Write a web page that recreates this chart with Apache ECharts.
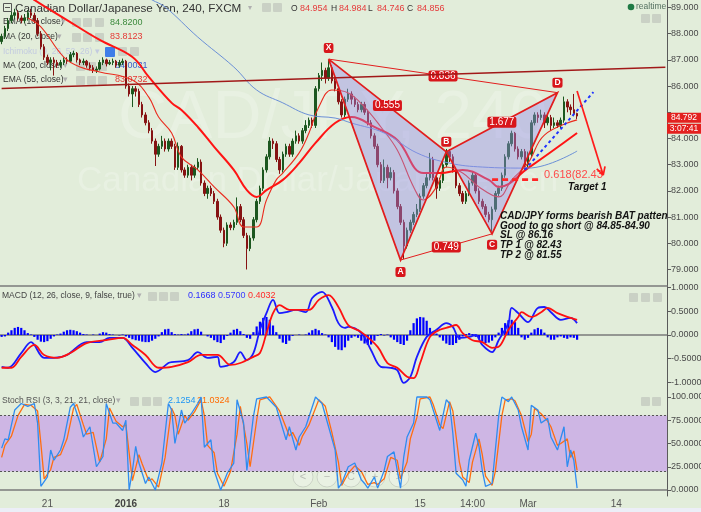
<!DOCTYPE html>
<html><head><meta charset="utf-8">
<script src="https://cdn.jsdelivr.net/npm/echarts@6/dist/echarts.min.js"></script>
<style>html,body{margin:0;padding:0;background:#e2edda}#c{width:701px;height:512px}</style>
</head><body><div id="c"></div>
<script>
// ---------- DATA ----------
const SLOTS = 204;
const xTickSlots = [14, 38, 68, 97, 128, 144, 161, 188];
const xTickLabels = ['21', '2016', '18', 'Feb', '15', '14:00', 'Mar', '14'];
const priceTicks = [79, 80, 81, 82, 83, 84, 85, 86, 87, 88, 89];
const macdTicks = [-1, -0.5, 0, 0.5, 1];
const stochTicks = [0, 25, 50, 75, 100];

// [open, close, low, high]
const candles = [
[87.7,87.9,87.6,88.0],[87.9,88.2,87.8,88.3],[88.2,88.5,88.1,88.6],[88.5,88.7,88.4,88.85],[88.7,88.8,88.6,88.95],
[88.8,88.6,88.5,88.9],[88.6,88.5,88.4,88.7],[88.5,88.6,88.4,88.75],[88.6,88.8,88.5,88.9],[88.8,88.7,88.6,88.95],
[88.7,88.5,88.4,88.8],[88.5,88.0,87.9,88.6],[88.0,87.5,87.4,88.1],[87.5,87.1,87.0,87.6],[87.1,86.9,86.8,87.2],
[86.9,87.0,86.6,87.1],[87.0,86.9,86.4,87.1],[86.9,86.8,86.7,87.0],[86.8,86.9,86.7,87.0],[86.9,87.0,86.8,87.1],
[87.0,86.95,86.85,87.1],[86.95,87.2,86.9,87.3],[87.2,87.25,87.1,87.35],[87.25,87.0,86.9,87.3],[87.0,86.9,86.8,87.05],
[86.9,86.95,86.8,87.05],[86.95,86.8,86.7,87.0],[86.8,86.7,86.6,86.9],[86.7,86.6,86.5,86.8],[86.6,86.65,86.5,86.75],
[86.65,86.9,86.6,87.0],[86.9,87.0,86.8,87.1],[87.0,86.85,86.75,87.05],[86.85,86.9,86.8,87.0],[86.9,86.95,86.8,87.05],
[86.95,86.8,86.7,87.0],[86.8,86.9,86.7,87.0],[86.9,86.95,86.8,87.05],[86.95,86.0,85.9,87.0],[86.0,85.7,85.6,86.1],
[85.7,85.9,85.2,86.0],[85.9,85.8,85.6,86.0],[85.8,85.3,85.2,85.9],[85.3,84.9,84.8,85.4],[84.9,84.6,84.5,85.0],
[84.6,84.3,84.2,84.7],[84.3,83.9,83.8,84.4],[83.9,83.4,82.95,84.0],[83.4,83.7,83.3,83.8],[83.7,83.9,83.6,84.1],
[83.9,83.6,83.5,84.0],[83.6,83.9,83.5,84.0],[83.9,83.7,83.6,84.0],[83.7,82.9,82.8,83.8],[82.9,83.7,82.8,83.85],
[83.7,82.8,82.7,83.75],[82.8,82.6,82.5,82.9],[82.6,82.9,82.5,83.0],[82.9,82.6,82.4,83.0],[82.6,82.9,82.5,83.0],
[82.9,83.1,82.8,83.25],[83.1,82.3,82.2,83.2],[82.3,81.9,81.8,82.4],[81.9,82.1,81.7,82.2],[82.1,81.9,81.8,82.2],
[81.9,81.6,81.5,82.0],[81.6,81.0,80.9,81.7],[81.0,80.5,80.4,81.1],[80.5,80.0,79.85,80.6],[80.0,80.7,79.9,80.8],
[80.7,80.6,80.5,80.8],[80.6,80.8,80.5,80.9],[80.8,81.4,80.7,81.75],[81.4,80.9,80.8,81.5],[80.9,80.3,80.2,81.0],
[80.3,79.8,79.0,80.4],[79.8,80.2,79.7,80.3],[80.2,80.9,80.1,81.0],[80.9,81.6,80.8,81.7],[81.6,82.1,81.5,82.2],
[82.1,82.8,82.0,82.9],[82.8,83.3,82.7,83.4],[83.3,83.9,83.2,84.05],[83.9,83.8,83.6,84.0],[83.8,83.2,83.1,83.9],
[83.2,82.8,82.65,83.3],[82.8,83.4,82.7,83.5],[83.4,83.7,83.3,83.8],[83.7,83.4,83.3,83.8],[83.4,83.9,83.3,84.0],
[83.9,84.1,83.8,84.3],[84.1,83.9,83.8,84.2],[83.9,84.3,83.8,84.4],[84.3,84.5,84.2,84.7],[84.5,84.7,84.4,84.8],
[84.7,84.5,84.4,84.8],[84.5,85.9,84.4,86.0],[85.9,86.4,85.8,86.5],[86.4,86.6,86.2,86.9],[86.6,86.3,86.1,86.7],
[86.3,86.7,86.2,87.0],[86.7,86.2,86.1,86.8],[86.2,85.9,85.8,86.3],[85.9,85.4,85.3,86.0],[85.4,84.9,84.8,85.5],
[84.9,85.5,84.8,85.6],[85.5,85.7,85.4,85.9],[85.7,85.5,85.3,85.8],[85.5,85.3,85.2,85.6],[85.3,85.1,85.0,85.4],
[85.1,85.3,85.0,85.4],[85.3,85.0,84.9,85.4],[85.0,84.6,84.5,85.1],[84.6,84.1,84.0,84.7],[84.1,83.7,83.6,84.2],
[83.7,83.0,82.9,83.8],[83.0,82.4,82.3,83.1],[82.4,82.9,82.3,83.2],[82.9,82.5,82.1,83.0],[82.5,82.7,82.4,82.9],
[82.7,82.0,81.9,82.8],[82.0,81.4,81.3,82.1],[81.4,80.8,80.7,81.5],[80.8,79.9,79.4,80.9],[79.9,80.5,79.8,80.6],
[80.5,80.8,80.4,80.9],[80.8,81.1,80.7,81.2],[81.1,81.3,81.0,81.5],[81.3,81.8,81.2,81.9],[81.8,82.2,81.7,82.3],
[82.2,82.5,82.1,82.7],[82.5,83.2,82.4,83.45],[83.2,82.5,82.4,83.3],[82.5,82.1,81.7,82.6],[82.1,82.4,82.0,82.5],
[82.4,83.0,82.3,83.1],[83.0,83.5,82.9,83.6],[83.5,83.3,83.1,83.6],[83.3,82.8,82.7,83.4],[82.8,82.2,82.1,82.9],
[82.2,81.9,81.8,82.3],[81.9,81.6,81.5,82.0],[81.6,81.9,81.5,82.0],[81.9,82.3,81.8,82.4],[82.3,82.6,82.2,82.75],
[82.6,82.0,81.9,82.7],[82.0,81.6,81.5,82.1],[81.6,81.4,81.3,81.7],[81.4,81.1,81.0,81.5],[81.1,80.9,80.8,81.2],
[80.9,81.3,80.45,81.4],[81.3,81.9,81.2,82.0],[81.9,82.1,81.8,82.2],[82.1,82.6,82.0,82.7],[82.6,83.3,82.5,83.4],
[83.3,83.8,83.2,83.9],[83.8,84.2,83.7,84.3],[84.2,83.6,83.5,84.25],[83.6,83.3,83.2,83.7],[83.3,83.5,83.2,83.6],
[83.5,83.0,82.8,83.6],[83.0,83.4,82.9,83.5],[83.4,84.6,83.3,84.7],[84.6,84.9,84.5,85.0],[84.9,84.8,84.6,85.0],
[84.8,84.9,84.7,85.1],[84.9,84.6,84.4,85.0],[84.6,84.8,84.5,84.9],[84.8,84.5,84.3,84.9],[84.5,84.6,84.4,84.8],
[84.6,84.5,84.4,84.7],[84.5,84.7,84.4,84.8],[84.7,85.4,84.6,85.6],[85.4,85.2,85.0,85.5],[85.2,85.1,84.9,85.3],
[85.1,84.95,84.85,85.7],[84.954,84.856,84.746,84.984]
];

// moving averages: [bar slot, price]
const fastMA = [[8,88.6],[12,88.26],[19,87.11],[24,86.73],[30,86.54],[40,86.23],[45,85.58],[48,84.82],[52,84.21],[55,83.29],[60,82.80],[65,82.15],[71,81.39],[74,80.62],[78,80.62],[81,81.65],[84,82.42],[86,82.68],[91,83.45],[94,84.21],[97,85.20],[101,85.85],[106,85.74],[111,85.20],[116,84.44],[121,83.56],[126,82.15],[129,81.65],[133,82.15],[136,82.91],[141,82.68],[146,82.15],[152,81.77],[156,82.42],[161,83.06],[166,84.13],[176,84.71]];
const slowMA = [[8,89.5],[10,89.29],[20,88.52],[30,87.76],[40,87.11],[45,86.35],[52,85.36],[55,85.09],[60,84.44],[65,83.68],[71,82.80],[75,82.03],[78,81.77],[81,82.03],[86,82.42],[91,83.06],[96,83.83],[102,84.59],[107,84.82],[114,84.44],[121,83.94],[129,82.68],[134,82.68],[141,82.80],[149,82.42],[152,82.15],[161,82.87],[176,84.21]];
const ma200 = [[42,89.6],[46,89.29],[50,89.02],[60,87.87],[71,86.73],[78,85.85],[86,85.36],[94,84.90],[102,84.78],[107,84.59],[117,84.21],[127,83.45],[137,83.06],[147,82.91],[161,82.87],[176,83.52]];

// harmonic BAT pattern
const patternNames = ['X', 'A', 'B', 'C', 'D'];
const patternSlots = [100, 122, 136, 150, 170];
const patternPrices = [87.03, 79.36, 83.49, 80.36, 85.75];
const ratioPairs = [[0, 2], [2, 4], [0, 4], [1, 3]];
const ratioLabels = ['0.555', '1.677', '0.836', '0.749'];

// drawings
const trendSlots = [0, 203], trendPrices = [85.91, 86.72];
const targetSlots = [150, 165], targetPrice = 82.43, targetLabel = '0.618(82.43';
const channelSlots = [160, 181], channelPrices = [82.8, 85.77];
const arrowSlots = [176, 184], arrowPrices = [85.81, 82.6];
const lastPrice = 84.792, countdown = '3:07:41';
const noteLines = ['CAD/JPY forms bearish BAT patten', 'Good to go short @ 84.85-84.90', 'SL @ 86.16', 'TP 1 @ 82.43', 'TP 2 @ 81.55'];

// MACD
const macdHist = [-0.04,-0.03, 0.05,0.1,0.15,0.17,0.15,0.1,0.04, 0.01, -0.04,-0.1,-0.14,-0.15,-0.13,-0.08,-0.03, 0.01,
 0.03,0.07,0.1,0.11,0.1,0.08,0.05,0.02, 0.01,0,0.01,0, 0.03,0.06,0.05,0.02, 0.01,0,-0.01,0.01,
 -0.03,-0.06,-0.09,-0.11,-0.12,-0.14,-0.15,-0.15,-0.12,-0.08,-0.03, 0.06,0.12,0.13,0.06, 0.02,0.01,0.02,0.01,
 0.03,0.08,0.12,0.13,0.07, 0,-0.03, -0.06,-0.11,-0.15,-0.17,-0.1, -0.02, 0.05,0.11,0.13,0.08,0.02, -0.06,-0.08,
 0.06,0.18,0.28,0.36,0.38,0.32,0.2,0.06, -0.08,-0.16,-0.19,-0.12, -0.02,0,0.01,0,0.01, 0.05,0.1,0.13,0.1,0.04, 0.01,
 -0.05,-0.15,-0.25,-0.31,-0.32,-0.26,-0.12, -0.06, -0.03,-0.06,-0.12,-0.18,-0.21,-0.2,-0.12, -0.02,0.02,-0.01,0.01,
 -0.05,-0.1,-0.15,-0.19,-0.21,-0.12, 0.1,0.25,0.35,0.38,0.37,0.3,0.15, 0.04,0.03,
 -0.05,-0.12,-0.18,-0.21,-0.21,-0.17,-0.1,-0.03, 0.02,0.04,0.02, -0.04,-0.09,-0.14,-0.17,-0.16,-0.12,-0.05,
 0.05,0.15,0.25,0.31,0.32,0.27,0.15, -0.05,-0.1,-0.06, 0.05,0.12,0.15,0.12,0.05, -0.05,-0.1,-0.1,-0.05,
 -0.03,-0.06,-0.08,-0.05,-0.06,-0.1];
const macdLine = [[0,-0.67],[2,-0.69],[6,-0.38],[9,-0.15],[13,-0.48],[16,-0.48],[20,-0.42],[26,-0.15],[30,-0.15],[33,-0.06],[37,-0.06],[40,-0.27],[44,-0.59],[47,-0.78],[51,-0.59],[52,-0.57],[57,-0.53],[60,-0.36],[63,-0.48],[66,-0.46],[67,-0.67],[71,-0.57],[73,-0.36],[75,-0.53],[77,-0.38],[79,0.11],[81,0.46],[83,0.74],[85,0.46],[87,0.48],[90,0.53],[93,0.48],[95,0.78],[98,0.91],[101,0.59],[103,0.25],[105,0.15],[106,0.17],[110,0.04],[113,-0.32],[116,-0.67],[119,-0.69],[121,-0.74],[123,-1.01],[125,-0.88],[127,-0.46],[130,-0.04],[133,0.11],[136,0.25],[138,0.17],[140,-0.06],[143,-0.04],[145,0],[147,-0.21],[150,-0.36],[152,-0.11],[155,0.25],[156,0.57],[158,0.46],[161,0.27],[164,0.57],[166,0.59],[168,0.48],[171,0.32],[174,0.36],[176,0.25]];
const signalLine = [[0,-0.69],[3,-0.69],[6,-0.46],[10,-0.21],[13,-0.42],[17,-0.48],[21,-0.38],[26,-0.17],[32,-0.11],[37,-0.06],[40,-0.21],[44,-0.42],[48,-0.69],[52,-0.67],[57,-0.57],[61,-0.42],[66,-0.42],[70,-0.63],[73,-0.59],[77,-0.46],[79,-0.38],[81,0.04],[83,0.46],[85,0.63],[88,0.53],[94,0.53],[97,0.74],[100,0.84],[103,0.59],[106,0.21],[110,0.06],[115,-0.25],[118,-0.59],[121,-0.69],[124,-0.88],[126,-0.91],[128,-0.59],[131,-0.04],[134,0.11],[137,0.17],[139,0.21],[141,0.04],[144,-0.11],[147,-0.15],[150,-0.27],[152,-0.25],[155,0.11],[158,0.38],[159,0.48],[162,0.38],[165,0.48],[167,0.57],[170,0.46],[173,0.38],[176,0.32]];

// Stoch RSI
const stochK = [[0,45],[1,55],[2,54],[3,70],[4,86],[6,93],[8,90],[10,93],[11,72],[12,4],[14,14],[15,43],[16,32],[18,43],[19,54],[21,89],[22,93],[24,72],[25,57],[27,68],[29,25],[31,36],[32,93],[34,72],[35,72],[37,64],[38,75],[39,0],[40,21],[41,47],[42,29],[44,7],[45,14],[47,0],[49,29],[51,93],[52,86],[53,50],[55,86],[56,72],[58,82],[60,93],[61,100],[62,46],[64,54],[65,21],[67,0],[69,18],[71,29],[72,97],[74,72],[75,21],[77,79],[78,98],[81,100],[84,89],[87,54],[88,68],[90,43],[91,57],[93,68],[96,100],[98,93],[100,68],[102,43],[103,2],[104,7],[106,25],[108,29],[110,11],[111,7],[112,2],[114,14],[115,2],[117,21],[118,36],[120,41],[121,21],[122,2],[123,36],[124,57],[126,72],[127,100],[130,100],[131,97],[133,75],[134,64],[136,97],[137,93],[138,61],[139,18],[141,11],[142,4],[143,32],[145,61],[146,47],[147,21],[148,4],[150,7],[152,79],[153,100],[155,95],[156,100],[158,86],[159,68],[161,43],[162,91],[164,86],[165,72],[167,77],[168,57],[170,43],[172,68],[173,25],[174,43],[175,32],[176,2]];
const stochD = [[0,35],[1,48],[3,58],[5,80],[7,92],[9,91],[11,85],[12,50],[13,12],[15,22],[16,35],[18,38],[20,55],[22,88],[23,92],[25,70],[26,60],[28,62],[30,30],[32,55],[33,88],[35,74],[37,68],[38,70],[39,40],[40,10],[42,38],[43,28],[45,10],[46,12],[48,3],[50,35],[52,88],[53,80],[54,60],[56,80],[57,75],[59,84],[61,97],[62,80],[63,48],[65,40],[66,18],[68,4],[70,20],[72,60],[73,90],[75,50],[76,25],[78,75],[79,97],[82,100],[85,85],[88,58],[89,62],[91,48],[92,58],[94,70],[97,97],[99,90],[101,62],[103,30],[104,5],[106,18],[108,26],[110,20],[112,6],[114,8],[115,6],[117,12],[119,35],[121,32],[122,12],[124,30],[125,55],[127,78],[128,98],[131,100],[132,92],[134,70],[135,66],[137,95],[138,85],[140,30],[141,14],[143,8],[144,30],[146,55],[147,38],[148,15],[150,5],[151,20],[153,80],[154,97],[156,98],[157,96],[159,80],[161,52],[162,60],[163,88],[165,82],[167,74],[168,68],[170,48],[171,50],[173,55],[174,35],[175,42],[176,21]];

// ---------- CHART ----------
const FONT = "Arial, 'Liberation Sans', sans-serif";
const cats = Array.from({length: SLOTS}, (_, i) => String(i));
const chart = echarts.init(document.getElementById('c'), null, {renderer: 'canvas', width: 701, height: 512});

const sepLine = {show: true, lineStyle: {color: '#7b7b7b', width: 1.5}};
function xAx(g) {
  return {
    type: 'category', gridIndex: g, data: cats, boundaryGap: true,
    axisLine: sepLine, axisTick: {show: false}, splitLine: {show: false},
    axisLabel: g === 2 ? {
      show: true, interval: (i) => xTickSlots.includes(i), margin: 3, fontSize: 10, color: '#555', fontFamily: FONT,
      formatter: (v, i) => { const k = xTickSlots.indexOf(i); if (k < 0) return ''; return xTickLabels[k] === '2016' ? '{b|2016}' : xTickLabels[k]; },
      rich: {b: {fontWeight: 'bold', fontSize: 10, color: '#444', fontFamily: FONT}}
    } : {show: false}
  };
}
function yAx(g, min, max, ticks, labelTicks, dec) {
  return {
    type: 'value', gridIndex: g, position: 'right', min, max, scale: true,
    axisLine: {show: true, lineStyle: {color: '#5a5a5a', width: 1}},
    axisTick: {show: true, length: 4, customValues: ticks, lineStyle: {color: '#5a5a5a'}},
    axisLabel: {customValues: labelTicks, formatter: v => v.toFixed(dec), fontSize: 9, color: '#4a4a4a', margin: 4, fontFamily: FONT},
    splitLine: {show: false}
  };
}

function renderPattern(params, api) {
  const P = patternSlots.map((s, i) => api.coord([s, patternPrices[i]]));
  const red = '#e21d1d', fill = 'rgba(150,140,236,0.42)';
  const ch = [];
  ch.push({type: 'polygon', shape: {points: [P[0], P[1], P[2]]}, style: {fill}});
  ch.push({type: 'polygon', shape: {points: [P[2], P[3], P[4]]}, style: {fill}});
  ch.push({type: 'line', shape: {x1: P[0][0], y1: P[0][1], x2: P[4][0], y2: P[4][1]}, style: {stroke: red, lineWidth: 1}});
  ch.push({type: 'line', shape: {x1: P[1][0], y1: P[1][1], x2: P[3][0], y2: P[3][1]}, style: {stroke: red, lineWidth: 1}});
  ch.push({type: 'polyline', shape: {points: [P[0], P[1], P[2], P[0]]}, style: {stroke: red, lineWidth: 1.7, fill: null}});
  ch.push({type: 'polyline', shape: {points: [P[2], P[3], P[4], P[2]]}, style: {stroke: red, lineWidth: 1.7, fill: null}});
  ratioPairs.forEach((pr, k) => {
    const a = P[pr[0]], b = P[pr[1]];
    ch.push({type: 'text', x: (a[0] + b[0]) / 2, y: (a[1] + b[1]) / 2, z2: 10,
      style: {text: ratioLabels[k], fill: '#fff', font: '10px ' + FONT, align: 'center', verticalAlign: 'middle',
        backgroundColor: '#d8161b', padding: [1, 2, 0, 2], borderRadius: 2}});
  });
  const off = [-11, 12, -10, 11, -10];
  patternNames.forEach((n, i) => {
    ch.push({type: 'text', x: P[i][0], y: P[i][1] + off[i], z2: 10,
      style: {text: n, fill: '#fff', font: 'bold 8.5px ' + FONT, align: 'center', verticalAlign: 'middle',
        backgroundColor: '#d8161b', padding: [1, 2, 0, 2], borderRadius: 2}});
  });
  return {type: 'group', children: ch};
}

function renderDrawings(params, api) {
  const c = (s, p) => api.coord([s, p]);
  const ch = [];
  const t0 = c(trendSlots[0], trendPrices[0]), t1 = c(trendSlots[1], trendPrices[1]);
  ch.push({type: 'line', shape: {x1: t0[0], y1: t0[1], x2: t1[0], y2: t1[1]}, style: {stroke: '#a11818', lineWidth: 1.6}});
  const g0 = c(targetSlots[0], targetPrice), g1 = c(targetSlots[1], targetPrice);
  ch.push({type: 'line', shape: {x1: g0[0], y1: g0[1], x2: g1[0], y2: g1[1]}, style: {stroke: '#ff2626', lineWidth: 2.6, lineDash: [6, 4]}});
  ch.push({type: 'text', x: g1[0] + 3, y: g1[1] - 5, style: {text: targetLabel, fill: '#ff4a4a', font: '11px ' + FONT, align: 'left', verticalAlign: 'middle'}});
  const b0 = c(channelSlots[0], channelPrices[0]), b1 = c(channelSlots[1], channelPrices[1]);
  ch.push({type: 'line', shape: {x1: b0[0], y1: b0[1], x2: b1[0], y2: b1[1]}, style: {stroke: '#1f33ff', lineWidth: 2, lineDash: [3, 3]}});
  const a0 = c(arrowSlots[0], arrowPrices[0]), a1 = c(arrowSlots[1], arrowPrices[1]);
  ch.push({type: 'line', shape: {x1: a0[0], y1: a0[1], x2: a1[0], y2: a1[1]}, style: {stroke: '#ff1c1c', lineWidth: 1.7}});
  const ang = Math.atan2(a1[1] - a0[1], a1[0] - a0[0]);
  [0.5, -0.5].forEach(d => {
    const aa = ang + Math.PI + d;
    ch.push({type: 'line', shape: {x1: a1[0], y1: a1[1], x2: a1[0] + 9 * Math.cos(aa), y2: a1[1] + 9 * Math.sin(aa)}, style: {stroke: '#ff1c1c', lineWidth: 1.7}});
  });
  return {type: 'group', children: ch};
}

function renderTags(params, api) {
  const cs = params.coordSys;
  const y = api.coord([0, lastPrice])[1];
  const x = cs.x + cs.width;
  return {type: 'group', children: [
    {type: 'rect', shape: {x: x, y: y - 5, width: 34, height: 10}, style: {fill: '#e3211f'}},
    {type: 'text', x: x + 17, y: y, style: {text: lastPrice.toFixed(3), fill: '#fff', font: '8.5px ' + FONT, align: 'center', verticalAlign: 'middle'}},
    {type: 'rect', shape: {x: x, y: y + 6, width: 34, height: 10}, style: {fill: '#e3211f'}},
    {type: 'text', x: x + 17, y: y + 11, style: {text: countdown, fill: '#fff', font: '8.5px ' + FONT, align: 'center', verticalAlign: 'middle'}}
  ]};
}

// ---------- static texts / chrome ----------
const G = [];
function T(x, y, text, fill, font, align) {
  G.push({type: 'text', x, y, z: 0, silent: true,
    style: {text, fill: fill || '#333', font: font || ('8.5px ' + FONT), align: align || 'left', verticalAlign: 'middle'}});
}
function ICON(x, y, fill) { G.push({type: 'rect', z: 0, silent: true, shape: {x, y, width: 9, height: 9, r: 1}, style: {fill: fill || 'rgba(200,208,196,0.95)'}}); }

// watermark
T(118, 119, 'CAD/JPY, 240', 'rgba(255,255,255,0.22)', '68px ' + FONT);
T(77, 181, 'Canadian Dollar/Japanese Yen', 'rgba(255,255,255,0.22)', '35px ' + FONT);
// header
G.push({type: 'rect', z: 0, shape: {x: 3.5, y: 3.5, width: 8, height: 8}, style: {fill: 'none', stroke: '#555', lineWidth: 1}});
G.push({type: 'line', z: 0, shape: {x1: 5, y1: 7.5, x2: 10, y2: 7.5}, style: {stroke: '#555', lineWidth: 1}});
T(15, 8.5, 'Canadian Dollar/Japanese Yen, 240, FXCM', '#333', '11.7px ' + FONT);
T(248, 8, '▾', '#b0b0b0', '8px ' + FONT);
ICON(262, 3); ICON(273, 3);
T(291, 8.5, 'O', '#333', '8.5px ' + FONT); T(300, 8.5, '84.954', '#e53b3b', '9px ' + FONT);
T(331, 8.5, 'H', '#333', '8.5px ' + FONT); T(339, 8.5, '84.984', '#e53b3b', '9px ' + FONT);
T(368, 8.5, 'L', '#333', '8.5px ' + FONT); T(377, 8.5, '84.746', '#e53b3b', '9px ' + FONT);
T(407, 8.5, 'C', '#333', '8.5px ' + FONT); T(417, 8.5, '84.856', '#e53b3b', '9px ' + FONT);
// legends main
T(3, 22, 'EMA (10, close)'); T(61, 22, '▾', '#b0b0b0'); ICON(72, 18); ICON(83, 18); ICON(95, 18); T(110, 23, '84.8200', '#3d8a3d', '9px ' + FONT);
T(3, 37, 'MA (20, close)'); T(57, 37, '▾', '#b0b0b0'); ICON(72, 33); ICON(83, 33); ICON(95, 33); T(110, 37, '83.8123', '#e53935', '9px ' + FONT);
T(3, 52, 'Ichimoku (9, 26, 52, 26)', '#c3cbe0'); T(95, 52, '▾', '#c3cbe0');
G.push({type: 'rect', z: 0, shape: {x: 105, y: 47, width: 10, height: 10, r: 1}, style: {fill: '#3f7ee8'}});
ICON(118, 47); ICON(130, 47);
T(3, 66, 'MA (200, close)'); T(63, 66, '▾', '#b0b0b0'); ICON(76, 62); ICON(87, 62); ICON(98, 62); T(115, 66, '84.0031', '#3a5cc9', '9px ' + FONT);
T(3, 80, 'EMA (55, close)'); T(63, 80, '▾', '#b0b0b0'); ICON(76, 76); ICON(87, 76); ICON(98, 76); T(115, 80, '83.0732', '#e53935', '9px ' + FONT);
// realtime
G.push({type: 'circle', z: 0, shape: {cx: 631, cy: 7, r: 3.3}, style: {fill: '#1f7a44'}});
T(636, 7, 'realtime', '#557060', '8.5px ' + FONT);
ICON(641, 14); ICON(652, 14);
// MACD legend
T(2, 296, 'MACD (12, 26, close, 9, false, true)', '#444');
T(137, 296, '▾', '#b0b0b0'); ICON(148, 292); ICON(159, 292); ICON(170, 292);
T(188, 296, '0.1668', '#2b2bff', '9px ' + FONT); T(218, 296, '0.5700', '#3a3aff', '9px ' + FONT); T(248, 296, '0.4032', '#ff2a2a', '9px ' + FONT);
ICON(629, 293); ICON(641, 293); ICON(653, 293);
// Stoch legend
T(2, 401, 'Stoch RSI (3, 3, 21, 21, close)', '#555');
T(116, 401, '▾', '#b0b0b0'); ICON(130, 397); ICON(142, 397); ICON(153, 397);
T(168, 401, '2.1254', '#2196f3', '9px ' + FONT); T(197, 401, '21.0324', '#ff6a00', '9px ' + FONT);
ICON(641, 397); ICON(652, 397);
// zoom buttons
['<', '−', 'C', '+', '>'].forEach((s, i) => {
  const cx = 303 + i * 24;
  G.push({type: 'circle', z: 0, shape: {cx, cy: 477, r: 10}, style: {fill: 'rgba(255,255,255,0.25)', stroke: 'rgba(120,120,120,0.22)', lineWidth: 1}});
  T(cx, 477, s, 'rgba(110,110,110,0.4)', '11px ' + FONT, 'center');
});
// bottom strip
G.push({type: 'rect', z: 0, shape: {x: 0, y: 508, width: 701, height: 4}, style: {fill: '#eceef7'}});
// annotation texts (on top)
noteLines.forEach((s, i) => {
  G.push({type: 'text', x: 500, y: 216 + i * 9.8, z: 20, style: {text: s, fill: '#111', font: 'italic bold 10px ' + FONT, align: 'left', verticalAlign: 'middle'}});
});
G.push({type: 'text', x: 568, y: 187, z: 20, style: {text: 'Target 1', fill: '#111', font: 'italic bold 10px ' + FONT, align: 'left', verticalAlign: 'middle'}});

const gridBase = {left: 0, right: 34, containLabel: false, outerBoundsMode: 'none'};
const option = {
  animation: false,
  backgroundColor: '#e2edda',
  textStyle: {fontFamily: FONT},
  grid: [
    Object.assign({top: 0, height: 286}, gridBase),
    Object.assign({top: 286, height: 105}, gridBase),
    Object.assign({top: 391, height: 105}, gridBase)
  ],
  xAxis: [xAx(0), xAx(1), xAx(2)],
  yAxis: [
    yAx(0, 78.370, 89.286, priceTicks, priceTicks.filter(v => Math.abs(v - lastPrice) > 0.5), 3),
    yAx(1, -1.179, 1.0316, macdTicks, macdTicks, 4),
    yAx(2, -6.45, 106.45, stochTicks, stochTicks, 4)
  ],
  graphic: {elements: G},
  series: [
    {type: 'candlestick', name: 'CADJPY', xAxisIndex: 0, yAxisIndex: 0, data: candles, barWidth: 2, z: 2,
      itemStyle: {color: '#1c571f', color0: '#861313', borderColor: '#1c571f', borderColor0: '#861313', borderWidth: 1}},
    {type: 'line', name: 'EMA10', xAxisIndex: 0, yAxisIndex: 0, data: fastMA, showSymbol: false, smooth: 0.4, z: 3,
      lineStyle: {color: '#ea2b1e', width: 1.1}},
    {type: 'line', name: 'EMA55', xAxisIndex: 0, yAxisIndex: 0, data: slowMA, showSymbol: false, smooth: 0.4, z: 3,
      lineStyle: {color: '#ff1414', width: 2}},
    {type: 'line', name: 'MA200', xAxisIndex: 0, yAxisIndex: 0, data: ma200, showSymbol: false, smooth: 0.4, z: 3,
      lineStyle: {color: '#6a8fd6', width: 1}},
    {type: 'custom', name: 'pattern', xAxisIndex: 0, yAxisIndex: 0, data: [[patternSlots[0], patternPrices[0]]], encode: {x: 0, y: 1}, renderItem: renderPattern, z: 4, silent: true},
    {type: 'custom', name: 'drawings', xAxisIndex: 0, yAxisIndex: 0, data: [[arrowSlots[0], arrowPrices[0]]], encode: {x: 0, y: 1}, renderItem: renderDrawings, z: 5, silent: true},
    {type: 'custom', name: 'tags', xAxisIndex: 0, yAxisIndex: 0, data: [[0, lastPrice]], encode: {x: 0, y: 1}, renderItem: renderTags, clip: false, z: 6, silent: true},
    {type: 'bar', name: 'hist', xAxisIndex: 1, yAxisIndex: 1, data: macdHist, barWidth: 2.2, itemStyle: {color: '#0000ff'}, z: 2},
    {type: 'line', name: 'MACD', xAxisIndex: 1, yAxisIndex: 1, data: macdLine, showSymbol: false, smooth: 0.35, z: 3, lineStyle: {color: '#1a1aff', width: 1.8}},
    {type: 'line', name: 'Signal', xAxisIndex: 1, yAxisIndex: 1, data: signalLine, showSymbol: false, smooth: 0.35, z: 4, lineStyle: {color: '#ff1010', width: 1.8}},
    {type: 'line', name: 'band', xAxisIndex: 2, yAxisIndex: 2, data: stochK, showSymbol: false, z: 1, lineStyle: {opacity: 0}, silent: true,
      markArea: {silent: true, itemStyle: {color: '#ceb6e4'}, data: [[{yAxis: 20}, {yAxis: 80}]]},
      markLine: {silent: true, symbol: 'none', label: {show: false}, lineStyle: {color: '#555', type: [2, 2], width: 1}, data: [{yAxis: 20}, {yAxis: 80}]}},
    {type: 'line', name: 'K', xAxisIndex: 2, yAxisIndex: 2, data: stochK, showSymbol: false, z: 4, lineStyle: {color: '#2f8cf0', width: 1.3}},
    {type: 'line', name: 'D', xAxisIndex: 2, yAxisIndex: 2, data: stochD, showSymbol: false, z: 3, lineStyle: {color: '#ff6d10', width: 1.3}}
  ]
};
chart.setOption(option);
</script>
</body></html>
